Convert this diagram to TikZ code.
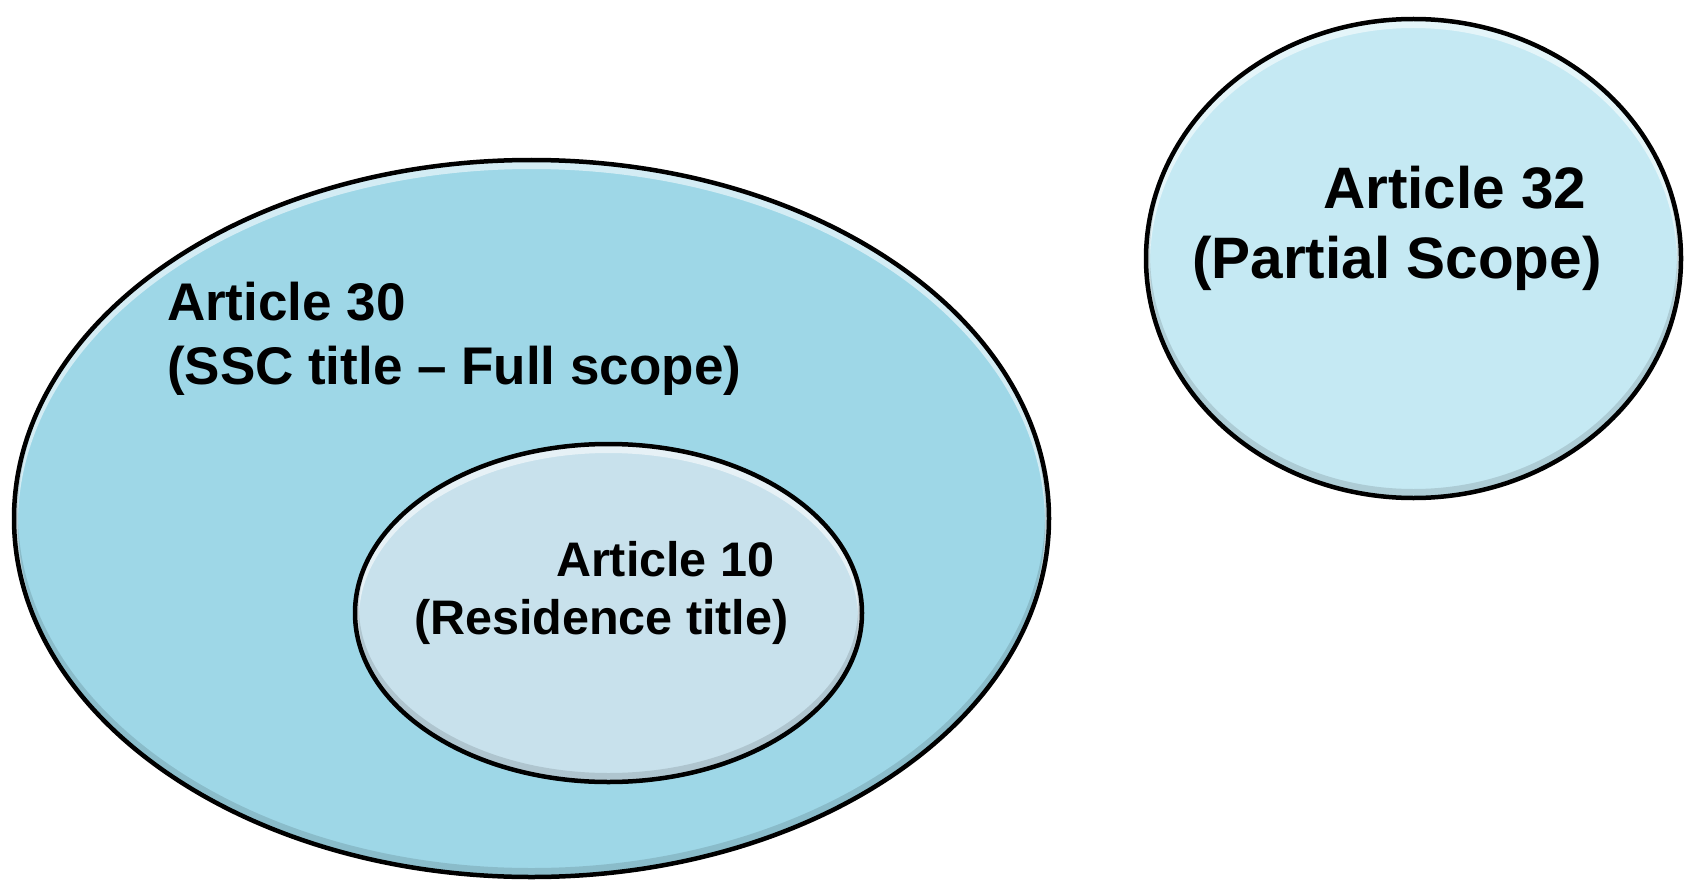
\documentclass[tikz,border=0pt]{standalone}
\usepackage{fontspec}
\setmainfont{Liberation Sans}
\usetikzlibrary{shapes.geometric,calc}
\definecolor{outerfill}{RGB}{158,215,231}
\definecolor{innerfill}{RGB}{200,225,236}
\definecolor{sidefill}{RGB}{197,233,243}
\begin{document}
\begin{tikzpicture}[x=1pt,y=-1pt,
  venn/.style={ellipse, draw=black, line width=4.5pt, inner sep=0pt, outer sep=0pt,
    path picture={
      \draw[white, opacity=.55, line width=8pt]
        let \p1=($(path picture bounding box.north east)-(path picture bounding box.center)$) in
        ([yshift=-5pt]path picture bounding box.center) ellipse [x radius=\x1, y radius=\y1];
      \draw[black, opacity=.12, line width=8pt]
        let \p1=($(path picture bounding box.north east)-(path picture bounding box.center)$) in
        ([yshift=5pt]path picture bounding box.center) ellipse [x radius=\x1, y radius=\y1];
    }},
  lbl/.style={anchor=base west, inner sep=0pt, outer sep=0pt, font=\bfseries},
  bigtext/.style={lbl, font=\fontsize{53}{64}\selectfont\bfseries},
  midtext/.style={lbl, font=\fontsize{48.5}{58}\selectfont\bfseries},
  sidetext/.style={lbl, font=\fontsize{58.5}{70}\selectfont\bfseries}]
\useasboundingbox (0,0) rectangle (1687,880);

% the three scopes
\node[venn, fill=outerfill, minimum width=1035pt, minimum height=717pt] (art30) at (531.5,518.5) {};
\node[venn, fill=innerfill, minimum width=507pt, minimum height=338pt] (art10) at (608.5,613) {};
\node[venn, fill=sidefill, minimum width=535pt, minimum height=479pt] (art32) at (1413.5,258.5) {};

% labels
\node[bigtext] (t30a) at (167,320) {Article 30};
\node[bigtext] (t30b) at (167,384) {(SSC title -- Full scope)};
\node[midtext] (t10a) at (556,576) {Article 10};
\node[midtext] (t10b) at (414,634) {(Residence title)};
\node[sidetext] (t32a) at (1323,208) {Article 32};
\node[sidetext] (t32b) at (1192,278) {(Partial Scope)};
\end{tikzpicture}
\end{document}
